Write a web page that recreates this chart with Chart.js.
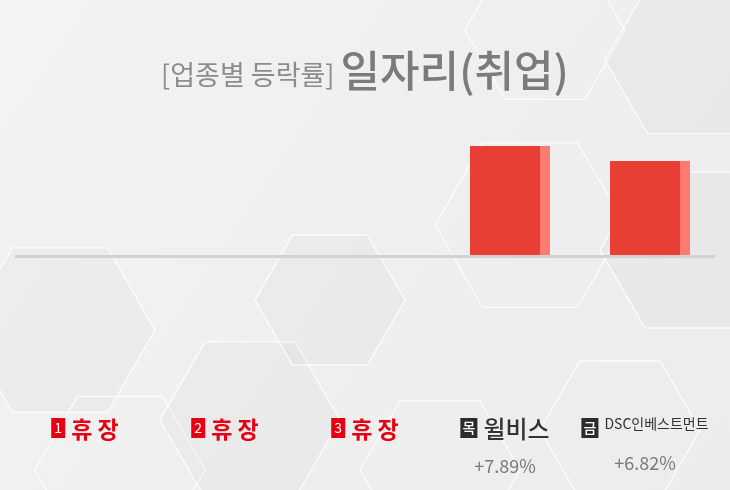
<!DOCTYPE html>
<html>
<head>
<meta charset="utf-8">
<script src="https://cdn.jsdelivr.net/npm/chart.js@4"></script>
<style>
  html, body { margin: 0; padding: 0; background: #efefef; }
  #wrap { width: 730px; height: 490px; position: relative; }
</style>
</head>
<body>
<div id="wrap"><canvas id="myChart" width="730" height="490"></canvas></div>
<script>
// data
const days = ['1', '2', '3', '목', '금'];
const names = ['휴장', '휴장', '휴장', '윌비스', 'DSC인베스트먼트'];
const values = [0, 0, 0, 7.89, 6.82];
const changes = ['', '', '', '+7.89%', '+6.82%'];
const holiday = [true, true, true, false, false];

const FONT = '"Noto Sans CJK KR", "Noto Sans", sans-serif';

// decorative hexagons (cx, cy, r, filled)
const hexes = [
    [545, 30, 80, 0], [690, 60, 85, 1], [530, 225, 95, 0], [690, 250, 90, 1],
    [60, 330, 95, 1], [120, 470, 85, 0], [250, 420, 90, 1], [440, 470, 80, 0],
    [620, 430, 80, 0], [330, 300, 75, 1]
];

function hexPath(ctx, cx, cy, r) {
    ctx.beginPath();
    for (let i = 0; i < 6; i++) {
        const a = Math.PI / 3 * i;
        const x = cx + r * Math.cos(a), y = cy + r * Math.sin(a);
        if (i === 0) ctx.moveTo(x, y); else ctx.lineTo(x, y);
    }
    ctx.closePath();
}

const backgroundPlugin = {
    id: 'bg',
    beforeDraw(chart) {
        const ctx = chart.ctx;
        ctx.save();
        const g = ctx.createLinearGradient(0, 0, 730, 490);
        g.addColorStop(0, '#f3f3f3');
        g.addColorStop(0.5, '#efefef');
        g.addColorStop(1, '#ececec');
        ctx.fillStyle = g;
        ctx.fillRect(0, 0, 730, 490);
        hexes.forEach(h => {
            hexPath(ctx, h[0], h[1], h[2]);
            if (h[3]) {
                ctx.fillStyle = 'rgba(190,190,190,0.09)';
                ctx.fill();
            }
            ctx.strokeStyle = 'rgba(255,255,255,0.75)';
            ctx.lineWidth = 1.5;
            ctx.stroke();
        });
        // title
        ctx.textBaseline = 'alphabetic';
        ctx.textAlign = 'left';
        const t1 = '[업종별 등락률] ';
        const t2 = '일자리(취업)';
        ctx.font = '500 43px ' + FONT;
        const w2 = ctx.measureText(t2).width;
        ctx.font = '27px ' + FONT;
        const w1 = ctx.measureText(t1).width;
        const x = 365 - (w1 + w2) / 2;
        ctx.fillStyle = '#8c8c8c';
        ctx.fillText(t1, x, 85);
        ctx.font = '500 43px ' + FONT;
        ctx.fillStyle = '#7b7b7b';
        ctx.fillText(t2, x + w1, 87);
        ctx.restore();
    },
    beforeDatasetsDraw(chart) {
        const ctx = chart.ctx;
        const y = chart.scales.y.getPixelForValue(0);
        ctx.save();
        ctx.fillStyle = '#d2d2d2';
        ctx.fillRect(15, y, 700, 3);
        ctx.restore();
    },
    afterDatasetsDraw(chart) {
        const ctx = chart.ctx;
        const meta = chart.getDatasetMeta(0);
        ctx.save();
        meta.data.forEach((bar, i) => {
            if (!values[i]) return;
            const right = bar.x + bar.width / 2;
            ctx.fillStyle = '#ff7b72';
            ctx.fillRect(right - 10, bar.y, 10, bar.base - bar.y);
        });
        // bottom labels
        const xs = chart.scales.x;
        ctx.textBaseline = 'middle';
        days.forEach((d, i) => {
            const cx = xs.getPixelForValue(i) - 5;
            const small = names[i].length > 4;
            const nameFont = holiday[i] ? '700 23px ' + FONT : (small ? '14px ' + FONT : '500 24px ' + FONT);
            ctx.font = nameFont;
            const label = holiday[i] ? names[i].split('').join(' ') : names[i];
            const nw = ctx.measureText(label).width;
            const bw = holiday[i] ? 14 : 17;
            const gap = 6;
            const total = bw + gap + nw;
            const x0 = cx - total / 2;
            ctx.fillStyle = holiday[i] ? '#e60012' : '#2b2b2b';
            ctx.fillRect(x0, 418, bw, 20);
            ctx.fillStyle = '#ffffff';
            ctx.textAlign = 'center';
            ctx.font = (holiday[i] ? '14px ' : '500 14px ') + FONT;
            ctx.fillText(d, x0 + bw / 2, 428);
            ctx.textAlign = 'left';
            ctx.font = nameFont;
            ctx.fillStyle = holiday[i] ? '#e60012' : '#333333';
            ctx.fillText(label, x0 + bw + gap, small ? 424 : 429);
            if (changes[i]) {
                ctx.textAlign = 'center';
                ctx.font = '18px ' + FONT;
                ctx.fillStyle = '#7a7a7a';
                ctx.fillText(changes[i], cx, i === 3 ? 466 : 463);
            }
        });
        ctx.restore();
    }
};

const data = {
    labels: names,
    datasets: [{
        data: values,
        backgroundColor: '#e83e35',
        borderWidth: 0,
        barPercentage: 0.8,
        categoryPercentage: 0.714
    }]
};

const config = {
    type: 'bar',
    data,
    options: {
        responsive: false,
        animation: false,
        layout: { padding: { top: 117, bottom: 235, left: 20, right: 10 } },
        scales: {
            x: { display: false },
            y: { display: false, min: 0, max: 10 }
        },
        plugins: {
            legend: { display: false },
            tooltip: { enabled: false }
        }
    },
    plugins: [backgroundPlugin]
};

const myChart = new Chart(document.getElementById('myChart'), config);
</script>
</body>
</html>
